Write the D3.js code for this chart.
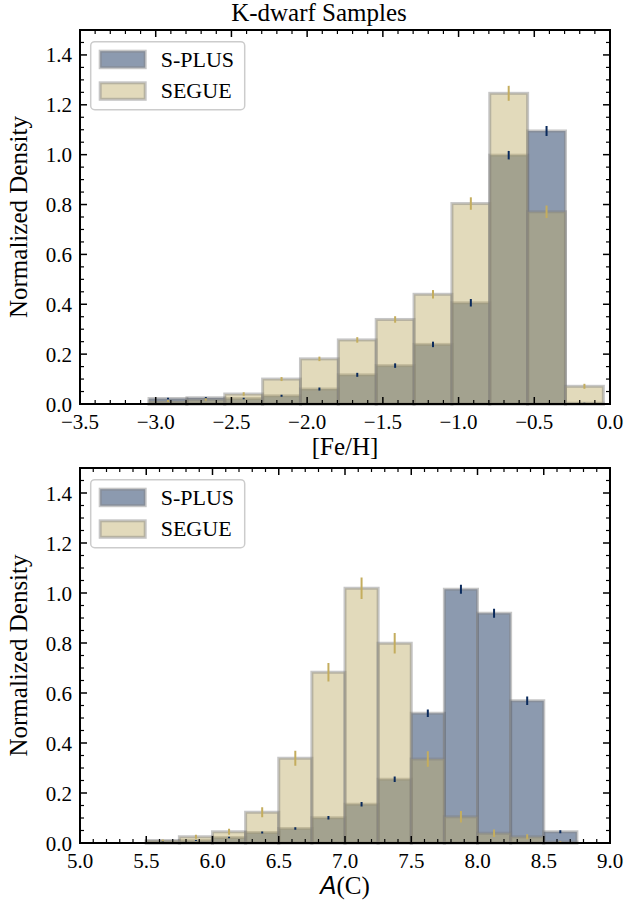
<!DOCTYPE html>
<html><head><meta charset="utf-8">
<script src="https://cdn.jsdelivr.net/npm/d3@7"></script>
<style>body{margin:0;background:#fff}svg{display:block}</style>
</head><body>
<script>
// ---- data ----
const fehBinStart = [-3.044,-2.794,-2.544,-2.294,-2.044,-1.794,-1.544,-1.294,-1.044,-0.794,-0.544,-0.294];
const fehSplus    = [0.022,0.025,0.022,0.033,0.060,0.117,0.154,0.239,0.406,0.998,1.095,0.003];
const fehSplusErr = [0.003,0.003,0.003,0.004,0.006,0.008,0.009,0.011,0.015,0.017,0.020,0.002];
const fehSegue    = [0.012,0.018,0.040,0.100,0.181,0.257,0.339,0.440,0.804,1.246,0.771,0.071];
const fehSegueErr = [0.004,0.005,0.007,0.008,0.009,0.011,0.013,0.017,0.025,0.030,0.025,0.010];

const acBinStart  = [5.5,5.75,6.0,6.25,6.5,6.75,7.0,7.25,7.5,7.75,8.0,8.25,8.5];
const acSplus     = [0.006,0.010,0.022,0.042,0.058,0.101,0.155,0.255,0.519,1.015,0.919,0.569,0.045];
const acSplusErr  = [0.002,0.002,0.003,0.004,0.005,0.007,0.009,0.011,0.015,0.018,0.018,0.017,0.006];
const acSegue     = [0.010,0.025,0.045,0.123,0.339,0.683,1.019,0.799,0.336,0.105,0.039,0.025,0.004];
const acSegueErr  = [0.004,0.008,0.012,0.020,0.030,0.037,0.043,0.041,0.031,0.023,0.015,0.010,0.003];

const binWidth = 0.25;
const seriesNames = ["S-PLUS","SEGUE"];
const yTicks = [0,0.2,0.4,0.6,0.8,1.0,1.2,1.4];
const fehTicks = [-3.5,-3.0,-2.5,-2.0,-1.5,-1.0,-0.5,0.0];
const acTicks = [5.0,5.5,6.0,6.5,7.0,7.5,8.0,8.5,9.0];

// ---- style ----
const W=626,H=901, L=80, R=610;
const colSplus="#001f4e", colSegue="#bead69", alpha=0.45;
const errSplus="#0a2a5c", errSegue="#c4ad5e";
const serif="'Liberation Serif','Times New Roman',serif";

const svg=d3.select("body").append("svg").attr("width",W).attr("height",H);

svg.append("text").attr("x",319).attr("y",21).attr("text-anchor","middle")
  .attr("font-family",serif).attr("font-size",25).text("K-dwarf Samples");

function fmt(v){ return d3.format(".1f")(v).replace("-","\u2212"); }

function panel(cfg){
  const x=d3.scaleLinear().domain(cfg.xdom).range([L,R]);
  const y=d3.scaleLinear().domain([0,1.5]).range([cfg.bottom,cfg.top]);
  const g=svg.append("g");
  const series=[{v:cfg.splus,e:cfg.splusErr,c:colSplus,ec:errSplus},{v:cfg.segue,e:cfg.segueErr,c:colSegue,ec:errSegue}];
  series.forEach(s=>{
    g.append("g").selectAll("rect").data(cfg.bins).join("rect")
      .attr("x",d=>x(d)).attr("width",d=>x(d+binWidth)-x(d))
      .attr("y",(d,i)=>y(s.v[i])).attr("height",(d,i)=>y(0)-y(s.v[i]))
      .attr("fill",s.c).attr("fill-opacity",alpha)
      .attr("stroke","#808080").attr("stroke-opacity",alpha).attr("stroke-width",3);
  });
  series.forEach(s=>{
    g.append("g").selectAll("line").data(cfg.bins).join("line")
      .attr("x1",d=>x(d+binWidth/2)).attr("x2",d=>x(d+binWidth/2))
      .attr("y1",(d,i)=>y(s.v[i]-s.e[i])).attr("y2",(d,i)=>y(s.v[i]+s.e[i]))
      .attr("stroke",s.ec).attr("stroke-width",2);
  });
  // ticks
  const [x0,x1]=cfg.xdom;
  const xMinor=d3.range(Math.round(x0*10),Math.round(x1*10)+1).map(v=>v/10);
  const yMinor=d3.range(0,31).map(v=>v*0.05);
  const tk=g.append("g").attr("stroke","#000");
  xMinor.forEach(v=>{
    const isMaj=Math.abs(v*2-Math.round(v*2))<1e-6, len=isMaj?7:4, w=isMaj?1.5:1.2;
    tk.append("line").attr("x1",x(v)).attr("x2",x(v)).attr("y1",cfg.bottom).attr("y2",cfg.bottom-len).attr("stroke-width",w);
    tk.append("line").attr("x1",x(v)).attr("x2",x(v)).attr("y1",cfg.top).attr("y2",cfg.top+len).attr("stroke-width",w);
  });
  yMinor.forEach(v=>{
    const isMaj=Math.abs(v*5-Math.round(v*5))<1e-6, len=isMaj?7:4, w=isMaj?1.5:1.2;
    tk.append("line").attr("y1",y(v)).attr("y2",y(v)).attr("x1",L).attr("x2",L+len).attr("stroke-width",w);
    tk.append("line").attr("y1",y(v)).attr("y2",y(v)).attr("x1",R).attr("x2",R-len).attr("stroke-width",w);
  });
  g.append("rect").attr("x",L).attr("y",cfg.top).attr("width",R-L).attr("height",cfg.bottom-cfg.top)
    .attr("fill","none").attr("stroke","#000").attr("stroke-width",2);
  // tick labels
  g.append("g").selectAll("text").data(cfg.xticks).join("text")
    .attr("x",d=>x(d)).attr("y",cfg.bottom+25).attr("text-anchor","middle")
    .attr("font-family",serif).attr("font-size",21).text(fmt);
  g.append("g").selectAll("text").data(yTicks).join("text")
    .attr("x",L-8).attr("y",d=>y(d)+7.5).attr("text-anchor","end")
    .attr("font-family",serif).attr("font-size",21).text(fmt);
  // axis labels
  g.append("text").attr("transform",`translate(27,${(cfg.top+cfg.bottom)/2}) rotate(-90)`)
    .attr("text-anchor","middle").attr("font-family",serif).attr("font-size",25).text("Normalized Density");
  const xl=g.append("text").attr("x",(L+R)/2).attr("y",cfg.bottom+51).attr("text-anchor","middle")
    .attr("font-family",serif).attr("font-size",25);
  cfg.xlabel(xl);
  // legend
  const lg=g.append("g").attr("transform",`translate(${L+10.7},${cfg.top+11.7})`);
  lg.append("rect").attr("width",154).attr("height",68).attr("rx",4)
    .attr("fill","#fff").attr("fill-opacity",0.8).attr("stroke","#cccccc").attr("stroke-width",1.5);
  [colSplus,colSegue].forEach((c,i)=>{
    lg.append("rect").attr("x",9.5).attr("y",9.5+i*31.6).attr("width",45).attr("height",16.5)
      .attr("fill",c).attr("fill-opacity",alpha).attr("stroke","#808080").attr("stroke-opacity",alpha).attr("stroke-width",3);
    lg.append("text").attr("x",70).attr("y",25+i*31.6).attr("font-family",serif).attr("font-size",22).text(seriesNames[i]);
  });
}

panel({top:30,bottom:404,xdom:[-3.5,0],bins:fehBinStart,splus:fehSplus,splusErr:fehSplusErr,segue:fehSegue,segueErr:fehSegueErr,
  xticks:fehTicks, xlabel:t=>t.text("[Fe/H]")});
panel({top:468,bottom:843,xdom:[5,9],bins:acBinStart,splus:acSplus,splusErr:acSplusErr,segue:acSegue,segueErr:acSegueErr,
  xticks:acTicks, xlabel:t=>{t.append("tspan").attr("font-family","'DejaVu Sans',sans-serif").attr("font-style","italic").attr("font-size",24).text("A");
    t.append("tspan").text("(C)");}});
</script>
</body></html>
